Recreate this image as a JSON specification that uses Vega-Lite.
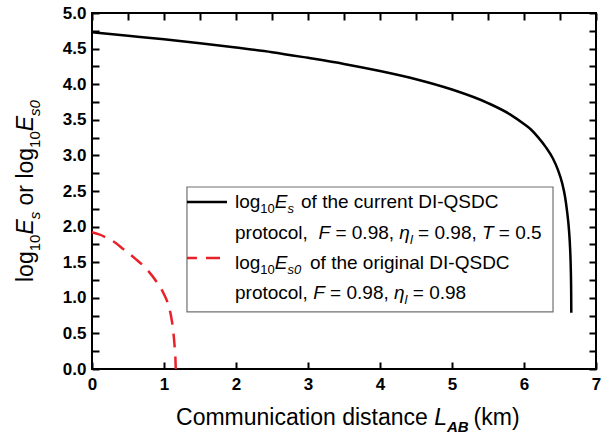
{
  "$schema": "https://vega.github.io/schema/vega-lite/v6.json",
  "width": 504,
  "height": 356,
  "autosize": "none",
  "padding": {"left": 92, "top": 13, "right": 12, "bottom": 70},
  "background": "white",
  "config": {"view": {"stroke": "black", "strokeWidth": 2}},
  "data": {"values": [{}]},
  "datasets": {
    "cur": [
      {"d": 0, "v": 4.73}, {"d": 0.5, "v": 4.68}, {"d": 1, "v": 4.63}, {"d": 1.5, "v": 4.575},
      {"d": 2, "v": 4.515}, {"d": 2.5, "v": 4.45}, {"d": 3, "v": 4.37}, {"d": 3.5, "v": 4.285},
      {"d": 4, "v": 4.185}, {"d": 4.5, "v": 4.07}, {"d": 5, "v": 3.925}, {"d": 5.5, "v": 3.735},
      {"d": 5.8, "v": 3.58}, {"d": 6, "v": 3.44}, {"d": 6.1, "v": 3.36}, {"d": 6.2, "v": 3.25},
      {"d": 6.3, "v": 3.12}, {"d": 6.4, "v": 2.96}, {"d": 6.47, "v": 2.8}, {"d": 6.53, "v": 2.61},
      {"d": 6.57, "v": 2.42}, {"d": 6.6, "v": 2.2}, {"d": 6.625, "v": 1.95}, {"d": 6.64, "v": 1.7},
      {"d": 6.65, "v": 1.4}, {"d": 6.655, "v": 1.1}, {"d": 6.657, "v": 0.79}
    ],
    "orig": [
      {"d": 0, "v": 1.92}, {"d": 0.1, "v": 1.89}, {"d": 0.2, "v": 1.845}, {"d": 0.3, "v": 1.79},
      {"d": 0.44, "v": 1.68}, {"d": 0.6, "v": 1.55}, {"d": 0.77, "v": 1.39}, {"d": 0.9, "v": 1.22},
      {"d": 1.0, "v": 1.05}, {"d": 1.06, "v": 0.9}, {"d": 1.1, "v": 0.73}, {"d": 1.13, "v": 0.52},
      {"d": 1.15, "v": 0.28}, {"d": 1.16, "v": 0.11}, {"d": 1.163, "v": 0}
    ]
  },
  "resolve": {"scale": {"x": "independent", "y": "independent"}},
  "layer": [
    {
      "data": {"name": "cur"},
      "mark": {"type": "point", "opacity": 0},
      "encoding": {
        "x": {"field": "d", "type": "quantitative", "scale": {"domain": [0, 7], "nice": false, "zero": false},
          "axis": {"orient": "bottom", "values": [0,0.5,1,1.5,2,2.5,3,3.5,4,4.5,5,5.5,6,6.5,7],
            "format": "d", "labelExpr": "datum.value % 1 === 0 ? datum.label : ''",
            "title": null, "grid": false, "domain": false, "offset": -7, "zindex": 1,
            "ticks": true, "tickColor": "black", "tickWidth": 2, "tickSize": 7,
            "labelFont": "Liberation Sans", "labelFontSize": 17,
            "labelFontWeight": "bold", "labelColor": "black", "labelPadding": 7, "labelFlush": false, "labelOverlap": false}},
        "y": {"field": "v", "type": "quantitative", "scale": {"domain": [0, 5], "nice": false, "zero": false},
          "axis": {"orient": "left", "values": [0,0.25,0.5,0.75,1,1.25,1.5,1.75,2,2.25,2.5,2.75,3,3.25,3.5,3.75,4,4.25,4.5,4.75,5],
            "format": ".1f", "labelExpr": "(datum.value * 2) % 1 === 0 ? datum.label : ''",
            "title": null, "grid": false, "domain": false, "offset": -7, "zindex": 1,
            "ticks": true, "tickColor": "black", "tickWidth": 2, "tickSize": 7,
            "labelFont": "Liberation Sans", "labelFontSize": 17,
            "labelFontWeight": "bold", "labelColor": "black", "labelPadding": 6, "labelFlush": false, "labelOverlap": false}}
      }
    },
    {
      "data": {"name": "cur"},
      "mark": {"type": "point", "opacity": 0},
      "encoding": {
        "x": {"field": "d", "type": "quantitative", "scale": {"domain": [0, 7], "nice": false, "zero": false},
          "axis": {"orient": "top", "values": [0,0.5,1,1.5,2,2.5,3,3.5,4,4.5,5,5.5,6,6.5,7], "title": null, "grid": false, "labels": false,
            "domain": false, "offset": -7, "zindex": 1, "ticks": true, "tickColor": "black", "tickWidth": 2, "tickSize": 7}},
        "y": {"field": "v", "type": "quantitative", "scale": {"domain": [0, 5], "nice": false, "zero": false},
          "axis": {"orient": "right", "values": [0,0.25,0.5,0.75,1,1.25,1.5,1.75,2,2.25,2.5,2.75,3,3.25,3.5,3.75,4,4.25,4.5,4.75,5], "title": null, "grid": false, "labels": false,
            "domain": false, "offset": -7, "zindex": 1, "ticks": true, "tickColor": "black", "tickWidth": 2, "tickSize": 7}}
      }
    },
    {
      "layer": [
        {
          "data": {"name": "cur"},
          "mark": {"type": "line", "color": "black", "strokeWidth": 2.5, "interpolate": "monotone"},
          "encoding": {
            "x": {"field": "d", "type": "quantitative", "scale": {"domain": [0, 7], "nice": false, "zero": false}, "axis": null},
            "y": {"field": "v", "type": "quantitative", "scale": {"domain": [0, 5], "nice": false, "zero": false}, "axis": null}
          }
        },
        {
          "data": {"name": "orig"},
          "mark": {"type": "line", "color": "#e8202a", "strokeWidth": 2.5, "strokeDash": [14, 9], "interpolate": "monotone"},
          "encoding": {
            "x": {"field": "d", "type": "quantitative", "axis": null},
            "y": {"field": "v", "type": "quantitative", "axis": null}
          }
        },
        {
          "mark": {"type": "rect", "fill": "white", "stroke": "#707070", "strokeWidth": 1.2},
          "encoding": {
            "x": {"datum": 1.319, "type": "quantitative", "axis": null},
            "x2": {"datum": 6.403},
            "y": {"datum": 2.556, "type": "quantitative", "axis": null},
            "y2": {"datum": 0.801}
          }
        },
        {
          "mark": {"type": "rule", "color": "black", "strokeWidth": 2.5},
          "encoding": {
            "x": {"datum": 1.319, "type": "quantitative", "axis": null},
            "x2": {"datum": 1.875},
            "y": {"datum": 2.346, "type": "quantitative", "axis": null}
          }
        },
        {
          "mark": {"type": "rule", "color": "#e8202a", "strokeWidth": 2.5, "strokeDash": [14, 9], "strokeDashOffset": 4},
          "encoding": {
            "x": {"datum": 1.319, "type": "quantitative", "axis": null},
            "x2": {"datum": 1.875},
            "y": {"datum": 1.559, "type": "quantitative", "axis": null}
          }
        },

        {"mark": {"type": "text", "text": "log", "font": "Liberation Sans", "fontSize": 19, "align": "left", "baseline": "alphabetic"},
         "encoding": {"x": {"datum": 1.986, "type": "quantitative", "axis": null}, "y": {"datum": 2.261, "type": "quantitative", "axis": null}}},
        {"mark": {"type": "text", "text": "10", "font": "Liberation Sans", "fontSize": 13, "align": "left", "baseline": "alphabetic"},
         "encoding": {"x": {"datum": 2.338, "type": "quantitative", "axis": null}, "y": {"datum": 2.191, "type": "quantitative", "axis": null}}},
        {"mark": {"type": "text", "text": "E", "font": "Liberation Sans", "fontSize": 19, "fontStyle": "italic", "align": "left", "baseline": "alphabetic"},
         "encoding": {"x": {"datum": 2.539, "type": "quantitative", "axis": null}, "y": {"datum": 2.261, "type": "quantitative", "axis": null}}},
        {"mark": {"type": "text", "text": "s", "font": "Liberation Sans", "fontSize": 13, "fontStyle": "italic", "align": "left", "baseline": "alphabetic"},
         "encoding": {"x": {"datum": 2.715, "type": "quantitative", "axis": null}, "y": {"datum": 2.191, "type": "quantitative", "axis": null}}},
        {"mark": {"type": "text", "text": "of the current DI-QSDC", "font": "Liberation Sans", "fontSize": 19, "align": "left", "baseline": "alphabetic"},
         "encoding": {"x": {"datum": 2.903, "type": "quantitative", "axis": null}, "y": {"datum": 2.261, "type": "quantitative", "axis": null}}},

        {"mark": {"type": "text", "text": "protocol,", "font": "Liberation Sans", "fontSize": 19, "align": "left", "baseline": "alphabetic"},
         "encoding": {"x": {"datum": 1.986, "type": "quantitative", "axis": null}, "y": {"datum": 1.826, "type": "quantitative", "axis": null}}},
        {"mark": {"type": "text", "text": "F", "font": "Liberation Sans", "fontSize": 19, "fontStyle": "italic", "align": "left", "baseline": "alphabetic"},
         "encoding": {"x": {"datum": 3.146, "type": "quantitative", "axis": null}, "y": {"datum": 1.826, "type": "quantitative", "axis": null}}},
        {"mark": {"type": "text", "text": "= 0.98,", "font": "Liberation Sans", "fontSize": 19, "align": "left", "baseline": "alphabetic"},
         "encoding": {"x": {"datum": 3.381, "type": "quantitative", "axis": null}, "y": {"datum": 1.826, "type": "quantitative", "axis": null}}},
        {"mark": {"type": "text", "text": "η", "font": "Liberation Sans", "fontSize": 19, "fontStyle": "italic", "align": "left", "baseline": "alphabetic"},
         "encoding": {"x": {"datum": 4.268, "type": "quantitative", "axis": null}, "y": {"datum": 1.826, "type": "quantitative", "axis": null}}},
        {"mark": {"type": "text", "text": "l", "font": "Liberation Sans", "fontSize": 13, "fontStyle": "italic", "align": "left", "baseline": "alphabetic"},
         "encoding": {"x": {"datum": 4.415, "type": "quantitative", "axis": null}, "y": {"datum": 1.756, "type": "quantitative", "axis": null}}},
        {"mark": {"type": "text", "text": "= 0.98,", "font": "Liberation Sans", "fontSize": 19, "align": "left", "baseline": "alphabetic"},
         "encoding": {"x": {"datum": 4.529, "type": "quantitative", "axis": null}, "y": {"datum": 1.826, "type": "quantitative", "axis": null}}},
        {"mark": {"type": "text", "text": "T", "font": "Liberation Sans", "fontSize": 19, "fontStyle": "italic", "align": "left", "baseline": "alphabetic"},
         "encoding": {"x": {"datum": 5.417, "type": "quantitative", "axis": null}, "y": {"datum": 1.826, "type": "quantitative", "axis": null}}},
        {"mark": {"type": "text", "text": "= 0.5", "font": "Liberation Sans", "fontSize": 19, "align": "left", "baseline": "alphabetic"},
         "encoding": {"x": {"datum": 5.651, "type": "quantitative", "axis": null}, "y": {"datum": 1.826, "type": "quantitative", "axis": null}}},

        {"mark": {"type": "text", "text": "log", "font": "Liberation Sans", "fontSize": 19, "align": "left", "baseline": "alphabetic"},
         "encoding": {"x": {"datum": 1.986, "type": "quantitative", "axis": null}, "y": {"datum": 1.404, "type": "quantitative", "axis": null}}},
        {"mark": {"type": "text", "text": "10", "font": "Liberation Sans", "fontSize": 13, "align": "left", "baseline": "alphabetic"},
         "encoding": {"x": {"datum": 2.338, "type": "quantitative", "axis": null}, "y": {"datum": 1.334, "type": "quantitative", "axis": null}}},
        {"mark": {"type": "text", "text": "E", "font": "Liberation Sans", "fontSize": 19, "fontStyle": "italic", "align": "left", "baseline": "alphabetic"},
         "encoding": {"x": {"datum": 2.539, "type": "quantitative", "axis": null}, "y": {"datum": 1.404, "type": "quantitative", "axis": null}}},
        {"mark": {"type": "text", "text": "s0", "font": "Liberation Sans", "fontSize": 13, "fontStyle": "italic", "align": "left", "baseline": "alphabetic"},
         "encoding": {"x": {"datum": 2.715, "type": "quantitative", "axis": null}, "y": {"datum": 1.334, "type": "quantitative", "axis": null}}},
        {"mark": {"type": "text", "text": "of the original DI-QSDC", "font": "Liberation Sans", "fontSize": 19, "align": "left", "baseline": "alphabetic"},
         "encoding": {"x": {"datum": 3.028, "type": "quantitative", "axis": null}, "y": {"datum": 1.404, "type": "quantitative", "axis": null}}},

        {"mark": {"type": "text", "text": "protocol,", "font": "Liberation Sans", "fontSize": 19, "align": "left", "baseline": "alphabetic"},
         "encoding": {"x": {"datum": 1.986, "type": "quantitative", "axis": null}, "y": {"datum": 0.983, "type": "quantitative", "axis": null}}},
        {"mark": {"type": "text", "text": "F", "font": "Liberation Sans", "fontSize": 19, "fontStyle": "italic", "align": "left", "baseline": "alphabetic"},
         "encoding": {"x": {"datum": 3.072, "type": "quantitative", "axis": null}, "y": {"datum": 0.983, "type": "quantitative", "axis": null}}},
        {"mark": {"type": "text", "text": "= 0.98,", "font": "Liberation Sans", "fontSize": 19, "align": "left", "baseline": "alphabetic"},
         "encoding": {"x": {"datum": 3.307, "type": "quantitative", "axis": null}, "y": {"datum": 0.983, "type": "quantitative", "axis": null}}},
        {"mark": {"type": "text", "text": "η", "font": "Liberation Sans", "fontSize": 19, "fontStyle": "italic", "align": "left", "baseline": "alphabetic"},
         "encoding": {"x": {"datum": 4.194, "type": "quantitative", "axis": null}, "y": {"datum": 0.983, "type": "quantitative", "axis": null}}},
        {"mark": {"type": "text", "text": "l", "font": "Liberation Sans", "fontSize": 13, "fontStyle": "italic", "align": "left", "baseline": "alphabetic"},
         "encoding": {"x": {"datum": 4.342, "type": "quantitative", "axis": null}, "y": {"datum": 0.913, "type": "quantitative", "axis": null}}},
        {"mark": {"type": "text", "text": "= 0.98", "font": "Liberation Sans", "fontSize": 19, "align": "left", "baseline": "alphabetic"},
         "encoding": {"x": {"datum": 4.456, "type": "quantitative", "axis": null}, "y": {"datum": 0.983, "type": "quantitative", "axis": null}}},

        {"mark": {"type": "text", "text": "Communication distance", "font": "Liberation Sans", "fontSize": 23, "align": "left", "baseline": "alphabetic"},
         "encoding": {"x": {"datum": 1.167, "type": "quantitative", "axis": null}, "y": {"datum": -0.787, "type": "quantitative", "axis": null}}},
        {"mark": {"type": "text", "text": "L", "font": "Liberation Sans", "fontSize": 23, "fontStyle": "italic", "align": "left", "baseline": "alphabetic"},
         "encoding": {"x": {"datum": 4.753, "type": "quantitative", "axis": null}, "y": {"datum": -0.787, "type": "quantitative", "axis": null}}},
        {"mark": {"type": "text", "text": "AB", "font": "Liberation Sans", "fontSize": 15, "fontStyle": "italic", "fontWeight": "bold", "align": "left", "baseline": "alphabetic"},
         "encoding": {"x": {"datum": 4.931, "type": "quantitative", "axis": null}, "y": {"datum": -0.885, "type": "quantitative", "axis": null}}},
        {"mark": {"type": "text", "text": "(km)", "font": "Liberation Sans", "fontSize": 23, "align": "left", "baseline": "alphabetic"},
         "encoding": {"x": {"datum": 5.3, "type": "quantitative", "axis": null}, "y": {"datum": -0.787, "type": "quantitative", "axis": null}}},

        {"mark": {"type": "text", "text": "log", "font": "Liberation Sans", "fontSize": 23, "angle": 270, "align": "left", "baseline": "alphabetic"},
         "encoding": {"x": {"datum": -0.819, "type": "quantitative", "axis": null}, "y": {"datum": 1.222, "type": "quantitative", "axis": null}}},
        {"mark": {"type": "text", "text": "10", "font": "Liberation Sans", "fontSize": 15, "angle": 270, "align": "left", "baseline": "alphabetic"},
         "encoding": {"x": {"datum": -0.722, "type": "quantitative", "axis": null}, "y": {"datum": 1.653, "type": "quantitative", "axis": null}}},
        {"mark": {"type": "text", "text": "E", "font": "Liberation Sans", "fontSize": 23, "fontStyle": "italic", "angle": 270, "align": "left", "baseline": "alphabetic"},
         "encoding": {"x": {"datum": -0.819, "type": "quantitative", "axis": null}, "y": {"datum": 1.888, "type": "quantitative", "axis": null}}},
        {"mark": {"type": "text", "text": "s", "font": "Liberation Sans", "fontSize": 15, "fontStyle": "italic", "angle": 270, "align": "left", "baseline": "alphabetic"},
         "encoding": {"x": {"datum": -0.722, "type": "quantitative", "axis": null}, "y": {"datum": 2.102, "type": "quantitative", "axis": null}}},
        {"mark": {"type": "text", "text": "or", "font": "Liberation Sans", "fontSize": 23, "angle": 270, "align": "left", "baseline": "alphabetic"},
         "encoding": {"x": {"datum": -0.819, "type": "quantitative", "axis": null}, "y": {"datum": 2.296, "type": "quantitative", "axis": null}}},
        {"mark": {"type": "text", "text": "log", "font": "Liberation Sans", "fontSize": 23, "angle": 270, "align": "left", "baseline": "alphabetic"},
         "encoding": {"x": {"datum": -0.819, "type": "quantitative", "axis": null}, "y": {"datum": 2.674, "type": "quantitative", "axis": null}}},
        {"mark": {"type": "text", "text": "10", "font": "Liberation Sans", "fontSize": 15, "angle": 270, "align": "left", "baseline": "alphabetic"},
         "encoding": {"x": {"datum": -0.722, "type": "quantitative", "axis": null}, "y": {"datum": 3.105, "type": "quantitative", "axis": null}}},
        {"mark": {"type": "text", "text": "E", "font": "Liberation Sans", "fontSize": 23, "fontStyle": "italic", "angle": 270, "align": "left", "baseline": "alphabetic"},
         "encoding": {"x": {"datum": -0.819, "type": "quantitative", "axis": null}, "y": {"datum": 3.34, "type": "quantitative", "axis": null}}},
        {"mark": {"type": "text", "text": "s0", "font": "Liberation Sans", "fontSize": 15, "fontStyle": "italic", "angle": 270, "align": "left", "baseline": "alphabetic"},
         "encoding": {"x": {"datum": -0.722, "type": "quantitative", "axis": null}, "y": {"datum": 3.555, "type": "quantitative", "axis": null}}}
      ]
    }
  ]
}
